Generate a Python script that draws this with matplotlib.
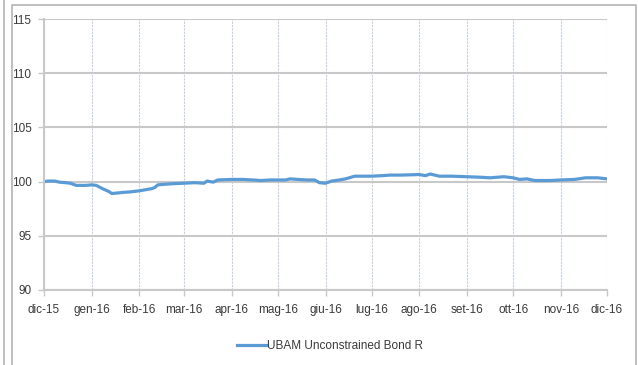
import matplotlib
matplotlib.use("Agg")
import matplotlib.pyplot as plt
from matplotlib import font_manager
from matplotlib.lines import Line2D
import pandas as pd

installed = {f.name for f in font_manager.fontManager.ttflist}
narrow = "Liberation Sans Narrow" if "Liberation Sans Narrow" in installed else "Liberation Sans"
plt.rcParams["font.family"] = [narrow, "DejaVu Sans"]

dates = [
    "2015-12-01", "2015-12-04", "2015-12-08", "2015-12-11", "2015-12-15",
    "2015-12-18", "2015-12-22", "2015-12-28", "2016-01-01", "2016-01-04",
    "2016-01-06", "2016-01-08", "2016-01-12", "2016-01-14", "2016-01-18",
    "2016-01-21", "2016-01-26", "2016-02-01", "2016-02-05", "2016-02-09",
    "2016-02-11", "2016-02-13", "2016-02-17", "2016-02-22", "2016-03-01",
    "2016-03-08", "2016-03-14", "2016-03-16", "2016-03-20", "2016-03-23",
    "2016-04-01", "2016-04-08", "2016-04-15", "2016-04-20", "2016-04-26",
    "2016-05-01", "2016-05-06", "2016-05-09", "2016-05-14", "2016-05-20",
    "2016-05-25", "2016-05-28", "2016-06-01", "2016-06-05", "2016-06-10",
    "2016-06-14", "2016-06-20", "2016-07-01", "2016-07-08", "2016-07-13",
    "2016-07-20", "2016-08-01", "2016-08-05", "2016-08-08", "2016-08-14",
    "2016-08-22", "2016-09-01", "2016-09-10", "2016-09-16", "2016-09-25",
    "2016-10-01", "2016-10-05", "2016-10-10", "2016-10-15", "2016-10-25",
    "2016-11-01", "2016-11-10", "2016-11-17", "2016-11-25", "2016-12-01",
]
values = [
    100.00, 100.05, 100.05, 99.95, 99.90,
    99.85, 99.65, 99.65, 99.70, 99.65,
    99.50, 99.35, 99.10, 98.90, 98.95,
    99.00, 99.05, 99.15, 99.25, 99.35,
    99.45, 99.70, 99.75, 99.80, 99.85,
    99.90, 99.85, 100.05, 99.95, 100.15,
    100.20, 100.20, 100.15, 100.10, 100.15,
    100.15, 100.15, 100.25, 100.20, 100.15,
    100.15, 99.90, 99.85, 100.05, 100.15,
    100.25, 100.50, 100.50, 100.55, 100.60,
    100.60, 100.65, 100.55, 100.70, 100.50,
    100.50, 100.45, 100.40, 100.35, 100.45,
    100.35, 100.20, 100.25, 100.10, 100.10,
    100.15, 100.20, 100.35, 100.35, 100.25,
]
month_labels = ["dic-15", "gen-16", "feb-16", "mar-16", "apr-16", "mag-16", "giu-16",
                "lug-16", "ago-16", "set-16", "ott-16", "nov-16", "dic-16"]
y_ticks = [90, 95, 100, 105, 110, 115]
series_name = "UBAM Unconstrained Bond R"

W, H = 638, 365
fig = plt.figure(figsize=(W / 100, H / 100), dpi=100)

# outer frames
border = "#b4b4b4"
fig.add_artist(Line2D([3.5 / W, 3.5 / W], [0, 1], color=border, lw=1.2))
fig.add_artist(Line2D([11.5 / W, 11.5 / W, 635.5 / W, 635.5 / W],
                      [0, 1 - 4.5 / H, 1 - 4.5 / H, 0], color=border, lw=1.2))

ax = fig.add_axes([44 / W, (H - 290) / H, 563 / W, 271 / H])

x = pd.to_datetime(dates)
ax.plot(x, values, color="#5B9BD5", lw=2.3)

ticks = pd.date_range("2015-12-01", "2016-12-01", freq="MS")
ax.set_xticks(ticks)
ax.set_xticklabels(month_labels)
ax.set_xlim(ticks[0], ticks[-1])
ax.set_ylim(90, 115)
ax.set_yticks(y_ticks)

ax.yaxis.grid(True, color="#c8c8c8", lw=1.5)
ax.xaxis.grid(True, color="#c3cfe0", lw=0.8, ls=(0, (2, 1)))
ax.set_axisbelow(True)

for s in ["top", "right"]:
    ax.spines[s].set_visible(False)
for s in ["left", "bottom"]:
    ax.spines[s].set_color("#c8c8c8")
    ax.spines[s].set_linewidth(1.5)

fs = 9.5 if narrow.endswith("Narrow") else 8.5
ax.tick_params(axis="both", colors="#c8c8c8", labelcolor="#3a3a3a", labelsize=fs,
               length=4, width=1)
ax.tick_params(axis="x", pad=6)
ax.tick_params(axis="y", pad=5)

handle = Line2D([], [], color="#5B9BD5", lw=2.3)
fig.legend([handle], [series_name], loc="center", bbox_to_anchor=(330 / W, 1 - 346 / H),
           frameon=False, fontsize=fs, handlelength=2.4, handletextpad=0.1,
           labelcolor="#3a3a3a")

fig.savefig("out.png", dpi=100)
